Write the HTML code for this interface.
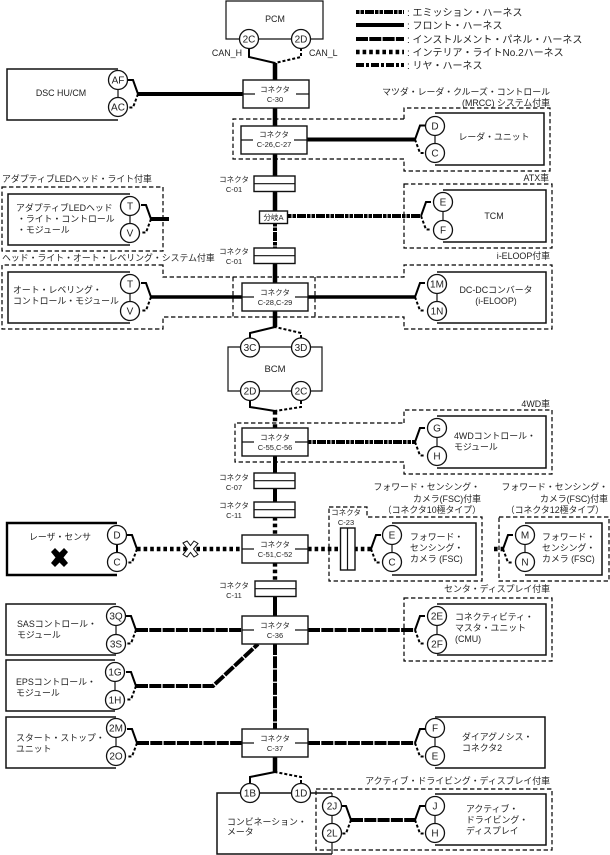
<!DOCTYPE html>
<html><head><meta charset="utf-8">
<style>
html,body{margin:0;padding:0;background:#fff}
svg{display:block}
text{font-family:"Liberation Sans","Noto Sans CJK JP",sans-serif;font-size:8.9px;fill:#222}
.c{text-anchor:middle}.r{text-anchor:end}
.cn{font-size:7.5px;text-anchor:middle}
.p{font-size:10px;text-anchor:middle}
.lg{font-size:10px}
.b{fill:none;stroke:#111;stroke-width:1.5}
.d{fill:none;stroke:#000;stroke-width:1.2;stroke-dasharray:4.4 2.6}
.t{fill:none;stroke:#111;stroke-width:1.2}
.w{fill:#fff;stroke:#111;stroke-width:1.4}
.k{fill:none;stroke:#000;stroke-width:4}
.kn{stroke-width:3.4}
.em{stroke-dasharray:3.5 1 3.5 1 9 1}
.ip{stroke-dasharray:12 1.3}
.il{stroke-dasharray:3.6 3;stroke-width:4.4}
.re{stroke-dasharray:8 2 3 2}
</style></head><body>
<svg xmlns="http://www.w3.org/2000/svg" width="610" height="855" viewBox="0 0 610 855">
<defs>
<g id="fl"><path d="M0 0L-5 -14H-10" fill="none" stroke="#000" stroke-width="2"/><path d="M0 0L-5 13.500H-10" fill="none" stroke="#000" stroke-width="2" stroke-dasharray="3 2"/></g>
<g id="fr"><path d="M0 0L5 -14H10" fill="none" stroke="#000" stroke-width="2"/><path d="M0 0L5 13.500H10" fill="none" stroke="#000" stroke-width="2" stroke-dasharray="3 2"/></g>
<g id="cb"><rect x="0" y="0" width="66" height="28" class="w"/><path d="M0 14H12M53 14H66" class="t"/></g>
<g id="cs"><rect x="0" y="0" width="41" height="15.500" class="w"/><path d="M0 7.700H41" class="t"/></g>
</defs>

<!-- legend -->
<path d="M356 12H404" class="k em"/><path d="M356 25H404" class="k"/><path d="M356 39H404" class="k ip"/><path d="M356 52H404" class="k il"/><path d="M356 65H404" class="k re"/>
<text class="lg" x="407" y="16">: エミッション・ハーネス</text>
<text class="lg" x="407" y="29">: フロント・ハーネス</text>
<text class="lg" x="407" y="43">: インストルメント・パネル・ハーネス</text>
<text class="lg" x="407" y="56">: インテリア・ライトNo.2ハーネス</text>
<text class="lg" x="407" y="69">: リヤ・ハーネス</text>

<!-- dashed option frames -->
<path class="d" d="M404 119V108H550V171H404V159H233V119H404"/>
<path class="d" d="M404 184H552V248H404Z"/>
<path class="d" d="M2 187H163V251H2Z"/>
<path class="d" d="M163 265H2V329H163V317H404V329H552V265H404V277H163Z"/>
<path class="d" d="M233 277V317M315 277V317"/>
<path class="d" d="M404 423V410H552V474H404V462H235V423H404"/>
<path class="d" d="M329 507H367V517H482V581H329Z"/>
<path class="d" d="M499 517H609V581H499Z"/>
<path class="d" d="M404 598H552V661H404Z"/>
<path class="d" d="M316 789H552V850H316Z"/>

<!-- centre trunk -->
<path class="k" style="stroke-width:4.500" d="M275 63V80M275 108V126M275 153V176M275 191V211"/>
<path class="k em" d="M275 223V248"/>
<path class="k" style="stroke-width:4.500" d="M275 263V283M275 311V327"/>
<path class="k il" d="M275 411V428"/>
<path class="k" d="M275 456V473"/>
<path class="k" d="M275 489V502"/>
<path class="k il" d="M275 517V535M275 563V581"/>
<path class="k" d="M275 597V616"/>
<path class="k ip" d="M275 643V729"/>
<path class="k" style="stroke-width:4.500" d="M275 756V772"/>

<!-- trunk forks -->
<path d="M249 48V57L275 63" fill="none" stroke="#000" stroke-width="2"/><path d="M301 48V57L275 63" fill="none" stroke="#000" stroke-width="2" stroke-dasharray="3 2"/>
<path d="M250 338V333L275 327" fill="none" stroke="#000" stroke-width="2"/><path d="M301 338V333L275 327" fill="none" stroke="#000" stroke-width="2" stroke-dasharray="3 2"/>
<path d="M250 401V407L275 411" fill="none" stroke="#000" stroke-width="2"/><path d="M301 401V407L275 411" fill="none" stroke="#000" stroke-width="2" stroke-dasharray="3 2"/>
<path d="M250 783V777L275 772" fill="none" stroke="#000" stroke-width="2"/><path d="M301 783V777L275 772" fill="none" stroke="#000" stroke-width="2" stroke-dasharray="3 2"/>

<!-- horizontal harnesses -->
<path class="k" d="M138 94H243"/>
<path class="k" d="M307 139.500H415"/>
<path class="k" d="M151 219H169"/>
<path class="k em" d="M288 216H421"/>
<path class="k kn" d="M151 297H243M308 297H415"/>
<path class="k em" d="M308 442H415"/>
<path class="k il" d="M137 549H243"/>
<path class="k il" d="M308 549H371"/>
<path class="k il" d="M494 549H503"/>
<path class="k ip" d="M136 630H243M308 630H415"/>
<path class="k ip" d="M136 686H213L258 644"/>
<path class="k ip" d="M137 743H243M308 743H415"/>
<path class="k ip" d="M351 820H415"/>

<!-- forks -->
<use href="#fl" x="138" y="94"/>
<use href="#fr" x="415" y="139.500"/>
<use href="#fl" x="151" y="219"/>
<use href="#fr" x="421" y="216"/>
<use href="#fl" x="151" y="297"/>
<use href="#fr" x="415" y="297"/>
<use href="#fr" x="415" y="442"/>
<use href="#fl" x="137" y="549"/>
<use href="#fr" x="371" y="549"/>
<use href="#fr" x="503" y="549"/>
<use href="#fl" x="136" y="630"/>
<use href="#fr" x="415" y="630"/>
<use href="#fl" x="136" y="686"/>
<use href="#fl" x="137" y="743"/>
<use href="#fr" x="415" y="743"/>
<use href="#fl" x="351" y="820"/>
<use href="#fr" x="415" y="820"/>

<!-- modules -->
<path class="b" style="stroke-width:1.2" d="M248 39H226V1H323V39H300M248 39H300"/>
<path class="b" d="M118 69H7V120H118"/><path class="t" d="M118 80V107"/>
<path class="b" d="M435 113H544V165H435"/><path class="t" d="M435 126V153"/>
<path class="b" d="M130 194H8V245H130"/><path class="t" d="M130 206V233"/>
<path class="b" d="M443 190H546V242H443"/><path class="t" d="M443 202V230"/>
<path class="b" d="M130 272H8V323H130"/><path class="t" d="M130 284V311"/>
<path class="b" d="M437 272H546V323H437"/><path class="t" d="M437 284V311"/>
<path class="t" d="M250 347H228V391H322V347H250"/>
<path class="b" d="M437 416H546V468H437"/><path class="t" d="M437 428V456"/>
<path d="M117 523H7V575H117" fill="none" stroke="#000" stroke-width="2.400"/><path d="M117 535V562" fill="none" stroke="#000" stroke-width="2"/>
<path class="b" d="M392 523H476V575H392"/><path class="t" d="M392 535V562"/>
<path class="b" d="M525 523H602V575H525"/><path class="t" d="M525 535V562"/>
<path class="b" d="M116 604H6V655H116" stroke="#444"/><path class="t" d="M116 616V644"/>
<path class="b" d="M437 604H546V655H437"/><path class="t" d="M437 616V644"/>
<path class="b" d="M115 660H6V711H115"/><path class="t" d="M115 672V700"/>
<path class="b" d="M116 717H6V768H116"/><path class="t" d="M116 728V756"/>
<path class="b" d="M435 717H545V768H435"/><path class="t" d="M435 728V756"/>
<path class="b" d="M332 793H217V854H332"/><path class="t" d="M332 793V854"/>
<path class="b" d="M435 794H546V845H435"/><path class="t" d="M435 806V833"/>

<!-- connectors -->
<use href="#cb" x="243" y="80"/><text class="cn" x="275" y="92">コネクタ</text><text class="cn" x="275" y="102">C-30</text>
<use href="#cb" x="241" y="126"/><text class="cn" x="274" y="137">コネクタ</text><text class="cn" x="274" y="147">C-26,C-27</text>
<use href="#cs" x="254" y="176"/><text class="cn" x="234" y="182">コネクタ</text><text class="cn" x="234" y="192">C-01</text>
<rect x="259.500" y="211" width="28" height="12.500" class="w"/><text class="c" style="font-size:7.500px" x="273.500" y="220">分岐A</text>
<use href="#cs" x="254" y="248"/><text class="cn" x="234" y="254">コネクタ</text><text class="cn" x="234" y="264">C-01</text>
<use href="#cb" x="242" y="283"/><text class="cn" x="275" y="295">コネクタ</text><text class="cn" x="275" y="305">C-28,C-29</text>
<use href="#cb" x="242" y="428"/><text class="cn" x="275" y="440">コネクタ</text><text class="cn" x="275" y="450">C-55,C-56</text>
<use href="#cs" x="254" y="473"/><text class="cn" x="234" y="480">コネクタ</text><text class="cn" x="234" y="490">C-07</text>
<use href="#cs" x="254" y="502"/><text class="cn" x="234" y="508">コネクタ</text><text class="cn" x="234" y="518">C-11</text>
<use href="#cb" x="242" y="535"/><text class="cn" x="275" y="547">コネクタ</text><text class="cn" x="275" y="557">C-51,C-52</text>
<use href="#cs" x="255" y="581"/><text class="cn" x="234" y="588">コネクタ</text><text class="cn" x="234" y="598">C-11</text>
<use href="#cb" x="242" y="616"/><text class="cn" x="275" y="628">コネクタ</text><text class="cn" x="275" y="638">C-36</text>
<use href="#cb" x="242" y="729"/><text class="cn" x="275" y="741">コネクタ</text><text class="cn" x="275" y="751">C-37</text>
<rect x="340.500" y="528" width="14.500" height="42" class="w"/><path class="t" d="M347.500 528V570"/>
<text class="cn" x="346" y="515">コネクタ</text><text class="cn" x="346" y="525">C-23</text>

<!-- X -->
<path d="M183 543L187 541L190.500 545.500L194 541L198 543.500L193.500 549L198 554.500L194 557L190.500 552.500L187 557L183 554.500L187.500 549Z" fill="#fff" stroke="#111" stroke-width="1"/>
<path d="M51 552L55 548L59.500 552.500L64 548L68 552L63.500 557.500L68 563L64 567L59.500 562.500L55 567L51 563L55.500 557.500Z" fill="#000"/>

<!-- pins -->
<g class="w" style="stroke-width:1.300">
<circle cx="249" cy="39" r="9.500"/><circle cx="301" cy="39" r="9.500"/>
<circle cx="118" cy="80" r="9.500"/><circle cx="118" cy="107" r="9.500"/>
<circle cx="435" cy="126" r="9.500"/><circle cx="435" cy="153" r="9.500"/>
<circle cx="130" cy="206" r="9.500"/><circle cx="130" cy="233" r="9.500"/>
<circle cx="443" cy="202" r="9.500"/><circle cx="443" cy="230" r="9.500"/>
<circle cx="130" cy="284" r="9.500"/><circle cx="130" cy="311" r="9.500"/>
<circle cx="437" cy="284" r="9.500"/><circle cx="437" cy="311" r="9.500"/>
<circle cx="250" cy="347.500" r="9.500"/><circle cx="301" cy="347.500" r="9.500"/>
<circle cx="250" cy="391" r="9.500"/><circle cx="301" cy="391" r="9.500"/>
<circle cx="437" cy="428" r="9.500"/><circle cx="437" cy="456" r="9.500"/>
<circle cx="117" cy="535" r="9.500"/><circle cx="117" cy="562" r="9.500"/>
<circle cx="392" cy="535" r="9.500"/><circle cx="392" cy="562" r="9.500"/>
<circle cx="525" cy="535" r="9.500"/><circle cx="525" cy="562" r="9.500"/>
<circle cx="116" cy="616" r="9.500"/><circle cx="116" cy="644" r="9.500"/>
<circle cx="437" cy="616" r="9.500"/><circle cx="437" cy="644" r="9.500"/>
<circle cx="115" cy="672" r="9.500"/><circle cx="115" cy="700" r="9.500"/>
<circle cx="116" cy="728" r="9.500"/><circle cx="116" cy="756" r="9.500"/>
<circle cx="435" cy="728" r="9.500"/><circle cx="435" cy="756" r="9.500"/>
<circle cx="250" cy="793" r="9.500"/><circle cx="301" cy="793" r="9.500"/>
<circle cx="332" cy="806" r="9.500"/><circle cx="332" cy="833" r="9.500"/>
<circle cx="435" cy="806" r="9.500"/><circle cx="435" cy="833" r="9.500"/>
</g>
<g>
<text class="p" x="249" y="42.500">2C</text><text class="p" x="301" y="42.500">2D</text>
<text class="p" x="118" y="83.500">AF</text><text class="p" x="118" y="110.500">AC</text>
<text class="p" x="435" y="129.500">D</text><text class="p" x="435" y="156.500">C</text>
<text class="p" x="130" y="209.500">T</text><text class="p" x="130" y="236.500">V</text>
<text class="p" x="443" y="205.500">E</text><text class="p" x="443" y="233.500">F</text>
<text class="p" x="130" y="287.500">T</text><text class="p" x="130" y="314.500">V</text>
<text class="p" x="437" y="287.500">1M</text><text class="p" x="437" y="314.500">1N</text>
<text class="p" x="250" y="351">3C</text><text class="p" x="301" y="351">3D</text>
<text class="p" x="250" y="394.500">2D</text><text class="p" x="301" y="394.500">2C</text>
<text class="p" x="437" y="431.500">G</text><text class="p" x="437" y="459.500">H</text>
<text class="p" x="117" y="538.500">D</text><text class="p" x="117" y="565.500">C</text>
<text class="p" x="392" y="538.500">E</text><text class="p" x="392" y="565.500">C</text>
<text class="p" x="525" y="538.500">M</text><text class="p" x="525" y="565.500">N</text>
<text class="p" x="116" y="619.500">3Q</text><text class="p" x="116" y="647.500">3S</text>
<text class="p" x="437" y="619.500">2E</text><text class="p" x="437" y="647.500">2F</text>
<text class="p" x="115" y="675.500">1G</text><text class="p" x="115" y="703.500">1H</text>
<text class="p" x="116" y="731.500">2M</text><text class="p" x="116" y="759.500">2O</text>
<text class="p" x="435" y="731.500">F</text><text class="p" x="435" y="759.500">E</text>
<text class="p" x="250" y="796.500">1B</text><text class="p" x="301" y="796.500">1D</text>
<text class="p" x="332" y="809.500">2J</text><text class="p" x="332" y="836.500">2L</text>
<text class="p" x="435" y="809.500">J</text><text class="p" x="435" y="836.500">H</text>
</g>

<!-- labels -->
<text class="c" x="275" y="22">PCM</text>
<text class="r" x="242" y="56">CAN_H</text><text x="309" y="56">CAN_L</text>
<text class="c" x="61" y="96">DSC HU/CM</text>
<text class="r" x="550" y="95">マツダ・レーダ・クルーズ・コントロール</text>
<text class="r" x="550" y="106">(MRCC) システム付車</text>
<text class="c" x="494" y="140">レーダ・ユニット</text>
<text class="r" x="549" y="181">ATX車</text>
<text class="c" x="494" y="219">TCM</text>
<text x="2" y="182">アダプティブLEDヘッド・ライト付車</text>
<text x="16" y="211">アダプティブLEDヘッド</text>
<text x="17" y="222">・ライト・コントロール</text>
<text x="17" y="233">・モジュール</text>
<text x="2" y="261">ヘッド・ライト・オート・レベリング・システム付車</text>
<text x="13" y="293">オート・レベリング・</text>
<text x="13" y="304">コントロール・モジュール</text>
<text class="r" x="550" y="259">i-ELOOP付車</text>
<text class="c" x="496" y="293">DC-DCコンバータ</text>
<text class="c" x="496" y="304">(i-ELOOP)</text>
<text class="c" style="font-size:9.500px" x="275" y="372">BCM</text>
<text class="r" x="550" y="407">4WD車</text>
<text x="454" y="439">4WDコントロール・</text>
<text x="454" y="450">モジュール</text>
<text class="c" x="60" y="540">レーザ・センサ</text>
<text class="r" x="480" y="490">フォワード・センシング・</text>
<text class="r" x="481" y="502">カメラ(FSC)付車</text>
<text class="r" x="481" y="513">（コネクタ10極タイプ）</text>
<text class="r" x="608" y="490">フォワード・センシング・</text>
<text class="r" x="608" y="502">カメラ(FSC)付車</text>
<text class="r" x="604" y="513">（コネクタ12極タイプ）</text>
<text x="410" y="540">フォワード・</text><text x="410" y="551">センシング・</text><text x="410" y="562">カメラ (FSC)</text>
<text x="542" y="540">フォワード・</text><text x="542" y="551">センシング・</text><text x="542" y="562">カメラ (FSC)</text>
<text class="r" x="550" y="592">センタ・ディスプレイ付車</text>
<text x="17" y="627">SASコントロール・</text><text x="17" y="638">モジュール</text>
<text x="455" y="620">コネクティビティ・</text><text x="455" y="631">マスタ・ユニット</text><text x="455" y="642">(CMU)</text>
<text x="16" y="685">EPSコントロール・</text><text x="16" y="696">モジュール</text>
<text x="16" y="741">スタート・ストップ・</text><text x="16" y="752">ユニット</text>
<text x="462" y="740">ダイアグノシス・</text><text x="462" y="751">コネクタ2</text>
<text class="r" x="550" y="784">アクティブ・ドライビング・ディスプレイ付車</text>
<text x="227" y="825">コンビネーション・</text><text x="227" y="835">メータ</text>
<text x="466" y="812">アクティブ・</text><text x="466" y="823">ドライビング・</text><text x="466" y="834">ディスプレイ</text>
</svg>
</body></html>
